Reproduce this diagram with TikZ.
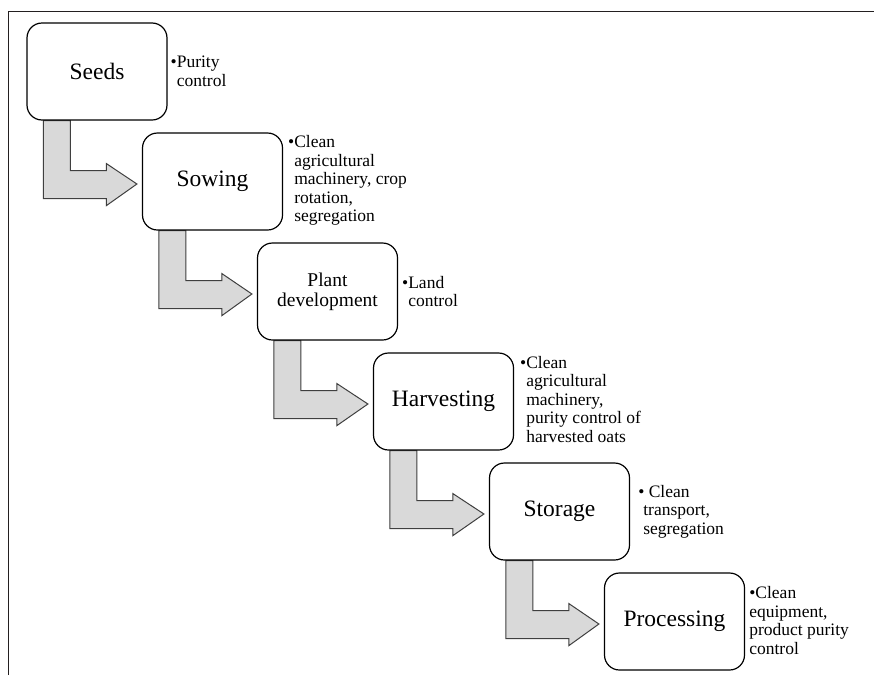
\documentclass[tikz,border=0pt]{standalone}
\usepackage{fontspec}
\setmainfont{Liberation Serif}
\usetikzlibrary{calc}
\definecolor{arrfill}{HTML}{D9D9D9}
\definecolor{arrline}{HTML}{3F3F3F}
\definecolor{framec}{HTML}{231F20}
\tikzset{
  stagebox/.style={draw=black, line width=1.2pt, fill=white, rounded corners=15pt,
    minimum width=140pt, minimum height=97pt, inner sep=2pt, align=center,
    font=\fontsize{23.5}{26}\selectfont},
  note/.style={anchor=west, inner sep=0pt, align=left,
    font=\fontsize{17.5}{18.5}\selectfont},
  bentarrow/.style={draw=arrline, line width=1pt, fill=arrfill, line join=miter}
}
\newcommand{\bent}[2]{%
  \path[bentarrow] ($(#1.south west)+(17,0)$) -- ($(#1.south west)+(44,0)$)
    -- ($(#1.south west)+(44,50)$) -- ($(#1.south west)+(80,50)$)
    -- ($(#1.south west)+(80,43)$) -- ($(#2.west)+(-5,2.5)$)
    -- ($(#1.south west)+(80,85)$) -- ($(#1.south west)+(80,78)$)
    -- ($(#1.south west)+(17,78)$) -- cycle;}
\begin{document}
\begin{tikzpicture}[x=1pt,y=-1pt]
\useasboundingbox (0,0) rectangle (874,675);
\draw[framec, line width=1.5pt] (8.5,675) -- (8.5,11.5) -- (874,11.5);
% box centres
\path
  (97,71.5) coordinate (cseeds)
  (212.5,181.5) coordinate (csow)
  (327.5,291.5) coordinate (cplant)
  (443.5,401.5) coordinate (charv)
  (559.5,511.5) coordinate (cstor)
  (674.5,621.5) coordinate (cproc);
\node[stagebox, draw=none, fill=none] (seeds) at (cseeds) {\phantom{S}};
\node[stagebox, draw=none, fill=none] (sowing) at (csow) {\phantom{S}};
\node[stagebox, draw=none, fill=none] (plant) at (cplant) {\phantom{S}};
\node[stagebox, draw=none, fill=none] (harvest) at (charv) {\phantom{S}};
\node[stagebox, draw=none, fill=none] (storage) at (cstor) {\phantom{S}};
\node[stagebox, draw=none, fill=none] (proc) at (cproc) {\phantom{S}};
\bent{seeds}{sowing}
\bent{sowing}{plant}
\bent{plant}{harvest}
\bent{harvest}{storage}
\bent{storage}{proc}
\node[stagebox] at (seeds) {Seeds};
\node[stagebox] at (sowing) {Sowing};
\node[stagebox, font=\fontsize{19.5}{20}\selectfont] at (plant) {Plant\\development};
\node[stagebox] at (harvest) {Harvesting};
\node[stagebox] at (storage) {Storage};
\node[stagebox] at (proc) {Processing};
% notes
\node[note] (nseeds) at ($(seeds.east)+(9,0)$) {\llap{•}Purity\\control};
\node[note] (nsow) at ($(sowing.east)+(11,-1)$) {\llap{•}Clean\\agricultural\\machinery, crop\\rotation,\\segregation};
\node[note] (nplant) at ($(plant.east)+(10,0)$) {\llap{•}Land\\control};
\node[note] (nharv) at ($(harvest.east)+(12,-2)$) {\llap{•}Clean\\agricultural\\machinery,\\purity control of\\harvested oats};
\node[note] (nstor) at ($(storage.east)+(13,0)$) {\kern-5pt• Clean\\transport,\\segregation};
\node[note] (nproc) at ($(proc.east)+(4,-1)$) {•Clean\\equipment,\\product purity\\control};
\end{tikzpicture}
\end{document}
